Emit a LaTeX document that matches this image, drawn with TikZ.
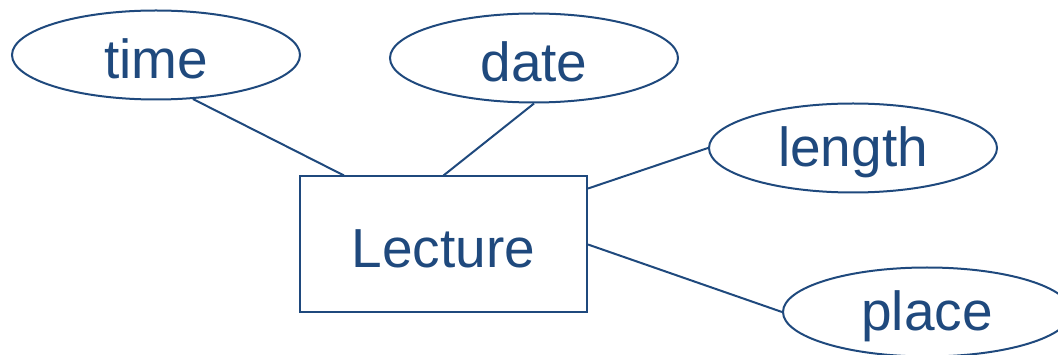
\documentclass[tikz,border=0pt]{standalone}
\usepackage{fontspec}
\setmainfont{Liberation Sans}
\usetikzlibrary{shapes.geometric,calc}
\definecolor{erblue}{HTML}{1F497D}
\newcommand{\lowered}[1]{\raisebox{-4pt}[\height][\depth]{#1}}
\begin{document}
\begin{tikzpicture}[x=1pt,y=-1pt,
  attr/.style={ellipse,draw=erblue,line width=2pt,minimum width=288pt,minimum height=89pt,inner sep=0pt,text=erblue,font=\fontsize{55}{60}\selectfont},
  entity/.style={rectangle,draw=erblue,line width=2pt,minimum width=287pt,minimum height=136pt,inner sep=0pt,text=erblue,font=\fontsize{55}{60}\selectfont},
  conn/.style={draw=erblue,line width=2pt}]
\useasboundingbox (0,0) rectangle (1058,355);
\node[entity] (lec) at (443.5,244.5) {\lowered{Lecture}};
\node[attr] (time) at (156,55) {\lowered{time}};
\node[attr] (date) at (534,58) {\lowered{date}};
\node[attr] (length) at (853,148) {\lowered{length}};
\node[attr] (place) at (927,312) {\lowered{place}};
\draw[conn] (time.-50) -- ($(lec.north west)+(45,0)$);
\draw[conn] (date.south) -- (lec.north);
\draw[conn] (length.west) -- ($(lec.north east)+(0,13)$);
\draw[conn] (place.west) -- (lec.east);
\end{tikzpicture}
\end{document}
